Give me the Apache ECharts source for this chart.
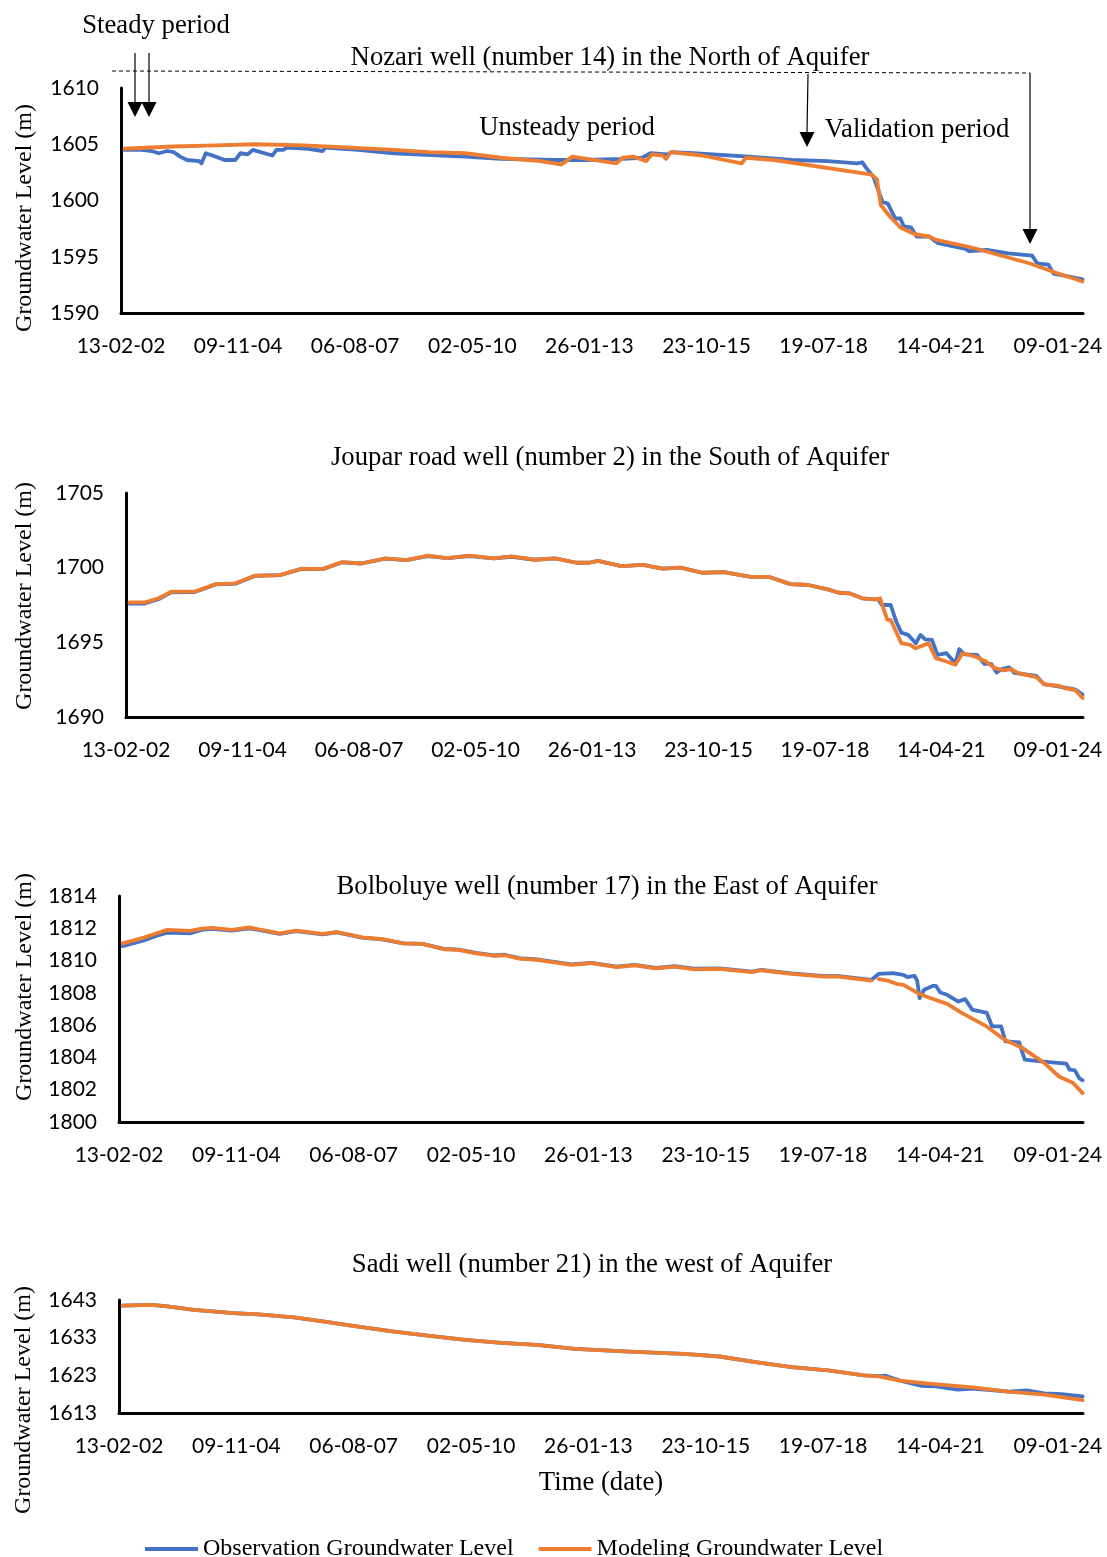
<!DOCTYPE html>
<html><head><meta charset="utf-8">
<script src="https://cdn.jsdelivr.net/npm/echarts@6/dist/echarts.min.js"></script>
<style>html,body{margin:0;padding:0;background:#fff}#c{width:1107px;height:1557px}</style>
</head><body><div id="c"></div>
<script>
// x tick labels (every 1000 days from 13-02-2002)
const tickLabels = ["13-02-02","09-11-04","06-08-07","02-05-10","26-01-13","23-10-15","19-07-18","14-04-21","09-01-24"];
const seriesNames = ["Observation Groundwater Level","Modeling Groundwater Level"];
const panelTitles = [
  "Nozari well (number 14) in the North of Aquifer",
  "Joupar road well (number 2) in the South of Aquifer",
  "Bolboluye well (number 17) in the East of Aquifer",
  "Sadi well (number 21) in the west of Aquifer"
];

// Panel 1 – Nozari (decimal year, level m)
const p1ObsT = [2002.2,2002.6,2002.83,2003.0,2003.2,2003.35,2003.5,2003.66,2003.95,2004.0,2004.1,2004.33,2004.54,2004.79,2004.91,2005.08,2005.2,2005.66,2005.75,2005.91,2006.0,2006.5,2006.83,2006.9,2007.66,2008.5,2009.0,2010.16,2011.0,2012.3,2013.0,2013.85,2014.3,2014.5,2014.9,2015.0,2015.5,2016.8,2017.8,2018.65,2019.33,2019.45,2019.54,2019.71,2019.92,2020.05,2020.22,2020.34,2020.42,2020.59,2020.72,2021.01,2021.22,2021.86,2021.94,2022.36,2022.87,2023.42,2023.54,2023.8,2023.92,2024.2,2024.6];
const p1ObsV = [1604.5,1604.5,1604.4,1604.2,1604.4,1604.3,1603.9,1603.6,1603.5,1603.3,1604.2,1603.9,1603.6,1603.6,1604.2,1604.1,1604.5,1604.0,1604.5,1604.5,1604.7,1604.6,1604.4,1604.7,1604.5,1604.2,1604.1,1603.9,1603.7,1603.6,1603.6,1603.7,1603.8,1604.2,1604.1,1604.3,1604.2,1603.9,1603.6,1603.5,1603.3,1603.4,1602.9,1602.1,1599.9,1599.7,1598.4,1598.4,1597.7,1597.6,1596.8,1596.8,1596.2,1595.7,1595.5,1595.6,1595.3,1595.1,1594.4,1594.3,1593.5,1593.3,1593.0];
const p1ModT = [2002.2,2003.33,2004.33,2005.25,2006.4,2007.25,2008.5,2009.33,2010.16,2011.0,2011.92,2012.42,2012.67,2013.7,2013.85,2014.1,2014.4,2014.53,2014.78,2014.86,2014.97,2015.7,2016.63,2016.73,2017.39,2019.67,2019.79,2019.88,2020.09,2020.34,2020.68,2021.01,2021.18,2022.03,2023.37,2023.96,2024.6];
const p1ModV = [1604.6,1604.8,1604.9,1605.0,1604.9,1604.75,1604.5,1604.3,1604.2,1603.8,1603.5,1603.2,1603.9,1603.3,1603.8,1603.9,1603.5,1604.1,1604.0,1603.7,1604.3,1604.0,1603.3,1603.8,1603.6,1602.3,1601.9,1599.6,1598.6,1597.6,1597.0,1596.8,1596.5,1595.8,1594.4,1593.6,1592.8];

// Panel 2 – Joupar road
const p2ObsT = [2002.2,2002.56,2002.89,2003.18,2003.73,2004.23,2004.69,2005.15,2005.74,2006.24,2006.74,2007.2,2007.66,2008.21,2008.71,2009.21,2009.67,2010.18,2010.76,2011.18,2011.73,2012.2,2012.71,2013.0,2013.21,2013.76,2014.27,2014.73,2015.15,2015.66,2016.17,2016.8,2017.22,2017.73,2018.15,2018.61,2018.87,2019.12,2019.42,2019.71,2019.8,2019.88,2020.09,2020.22,2020.34,2020.5,2020.68,2020.79,2020.9,2021.06,2021.19,2021.4,2021.61,2021.7,2021.83,2022.12,2022.29,2022.45,2022.58,2022.7,2022.88,2023.0,2023.51,2023.68,2024.02,2024.44,2024.6];
const p2ObsV = [1697.6,1697.6,1697.9,1698.35,1698.37,1698.88,1698.93,1699.45,1699.5,1699.92,1699.9,1700.36,1700.28,1700.6,1700.5,1700.78,1700.64,1700.78,1700.62,1700.73,1700.53,1700.62,1700.33,1700.33,1700.46,1700.1,1700.19,1699.93,1700.0,1699.66,1699.7,1699.39,1699.39,1698.9,1698.84,1698.55,1698.32,1698.28,1697.95,1697.88,1697.88,1697.5,1697.5,1696.39,1695.65,1695.5,1694.94,1695.5,1695.2,1695.16,1694.16,1694.27,1693.6,1694.54,1694.2,1694.16,1693.56,1693.56,1692.98,1693.2,1693.32,1692.95,1692.76,1692.22,1692.05,1691.83,1691.5];
const p2ModT = [2002.2,2002.56,2002.89,2003.18,2003.73,2004.23,2004.69,2005.15,2005.74,2006.24,2006.74,2007.2,2007.66,2008.21,2008.71,2009.21,2009.67,2010.18,2010.76,2011.18,2011.73,2012.2,2012.71,2013.0,2013.21,2013.76,2014.27,2014.73,2015.15,2015.66,2016.17,2016.8,2017.22,2017.73,2018.15,2018.61,2018.87,2019.12,2019.42,2019.71,2019.84,2020.01,2020.09,2020.34,2020.55,2020.68,2020.98,2021.15,2021.4,2021.61,2021.78,2022.07,2022.33,2022.54,2022.75,2022.92,2023.09,2023.51,2023.72,2024.02,2024.18,2024.44,2024.6];
const p2ModV = [1697.68,1697.68,1697.95,1698.39,1698.39,1698.9,1698.95,1699.46,1699.5,1699.93,1699.9,1700.37,1700.28,1700.62,1700.5,1700.8,1700.64,1700.8,1700.62,1700.75,1700.53,1700.62,1700.33,1700.33,1700.46,1700.1,1700.19,1699.93,1700.0,1699.66,1699.7,1699.39,1699.39,1698.9,1698.84,1698.55,1698.32,1698.28,1697.95,1697.88,1697.95,1696.5,1696.5,1694.94,1694.83,1694.6,1694.94,1693.94,1693.72,1693.5,1694.27,1694.05,1693.72,1693.27,1693.12,1693.2,1692.94,1692.67,1692.16,1692.1,1691.94,1691.78,1691.27];

// Panel 3 – Bolboluye
const p3ObsT = [2002.2,2002.7,2002.95,2003.24,2003.79,2004.04,2004.29,2004.75,2005.16,2005.37,2005.87,2006.25,2006.87,2007.2,2007.79,2008.29,2008.75,2009.2,2009.7,2010.04,2010.45,2010.87,2011.12,2011.45,2011.87,2012.67,2013.14,2013.73,2014.15,2014.65,2015.08,2015.54,2016.13,2016.89,2017.1,2017.81,2018.57,2018.91,2019.67,2019.75,2019.84,2020.17,2020.42,2020.51,2020.68,2020.74,2020.8,2020.9,2021.1,2021.18,2021.28,2021.44,2021.7,2021.86,2022.03,2022.36,2022.49,2022.7,2022.8,2023.12,2023.25,2023.63,2023.88,2024.22,2024.3,2024.42,2024.52,2024.6];
const p3ObsV = [1810.9,1811.25,1811.5,1811.73,1811.69,1811.9,1811.96,1811.85,1812.0,1811.9,1811.66,1811.82,1811.62,1811.74,1811.42,1811.3,1811.07,1811.03,1810.72,1810.68,1810.48,1810.32,1810.36,1810.15,1810.07,1809.76,1809.86,1809.62,1809.73,1809.54,1809.65,1809.5,1809.51,1809.31,1809.42,1809.21,1809.04,1809.04,1808.8,1808.97,1809.18,1809.22,1809.11,1808.97,1809.05,1808.75,1807.67,1808.19,1808.43,1808.43,1808.02,1807.88,1807.46,1807.61,1806.95,1806.78,1805.92,1805.92,1804.99,1804.93,1803.86,1803.75,1803.69,1803.61,1803.24,1803.2,1802.72,1802.58];
const p3ModT = [2002.2,2002.7,2002.95,2003.24,2003.79,2004.04,2004.29,2004.75,2005.16,2005.37,2005.87,2006.25,2006.87,2007.2,2007.79,2008.29,2008.75,2009.2,2009.7,2010.04,2010.45,2010.87,2011.12,2011.45,2011.87,2012.67,2013.14,2013.73,2014.15,2014.65,2015.08,2015.54,2016.13,2016.89,2017.1,2017.81,2018.57,2018.91,2019.67,2019.75,2019.84,2020.05,2020.26,2020.42,2020.76,2021.01,2021.44,2021.77,2022.36,2022.78,2023.2,2023.71,2024.05,2024.38,2024.6];
const p3ModV = [1811.07,1811.42,1811.65,1811.9,1811.84,1811.98,1812.02,1811.9,1812.06,1811.94,1811.69,1811.86,1811.65,1811.77,1811.44,1811.32,1811.07,1811.03,1810.7,1810.66,1810.45,1810.29,1810.33,1810.12,1810.04,1809.73,1809.84,1809.59,1809.71,1809.51,1809.63,1809.46,1809.48,1809.28,1809.4,1809.18,1809.01,1809.01,1808.76,null,1808.85,1808.76,1808.56,1808.49,1807.98,1807.71,1807.32,1806.78,1805.92,1805.09,1804.58,1803.65,1802.82,1802.41,1801.79];

// Panel 4 – Sadi
const p4ObsT = [2002.2,2002.87,2003.2,2003.87,2004.79,2005.37,2006.2,2006.87,2007.7,2008.54,2009.37,2010.2,2011.04,2011.87,2012.76,2014.02,2015.29,2016.13,2016.97,2017.81,2018.66,2019.5,2019.84,2020.0,2020.34,2020.85,2021.18,2021.69,2022.03,2022.87,2023.29,2023.71,2024.1,2024.6];
const p4ObsV = [1641.5,1641.7,1641.4,1640.4,1639.5,1639.2,1638.4,1637.3,1635.9,1634.6,1633.5,1632.4,1631.6,1631.1,1630.0,1629.3,1628.7,1628.0,1626.5,1625.2,1624.3,1623.0,1622.8,1622.9,1621.6,1620.2,1620.1,1619.2,1619.5,1618.7,1619.0,1618.2,1618.0,1617.4];
const p4ModT = [2002.2,2002.87,2003.2,2003.87,2004.79,2005.37,2006.2,2006.87,2007.7,2008.54,2009.37,2010.2,2011.04,2011.87,2012.76,2014.02,2015.29,2016.13,2016.97,2017.81,2018.66,2019.5,2019.84,2020.34,2021.01,2022.03,2022.87,2023.71,2024.6];
const p4ModV = [1641.5,1641.7,1641.4,1640.4,1639.5,1639.2,1638.4,1637.3,1635.9,1634.6,1633.5,1632.4,1631.6,1631.1,1630.0,1629.3,1628.7,1628.0,1626.5,1625.2,1624.3,1623.0,1622.7,1621.6,1620.8,1619.8,1618.7,1617.9,1616.4];

// y-axis settings per panel
const yMins = [1590,1690,1800,1613];
const yMaxs = [1610,1705,1814,1643];
const ySteps = [5,5,2,10];

const START = 2002.118; // 13-02-2002
function toDays(t){ return (t - START) * 365.25; }
function pairs(ts, vs){ return ts.map((t,i)=>[toDays(t), vs[i]===null ? '-' : vs[i]]); }

const obs = [[p1ObsT,p1ObsV],[p2ObsT,p2ObsV],[p3ObsT,p3ObsV],[p4ObsT,p4ObsV]];
const mod = [[p1ModT,p1ModV],[p2ModT,p2ModV],[p3ModT,p3ModV],[p4ModT,p4ModV]];

const grids = [
  {left:121, top:88, width:962, height:225},
  {left:126, top:493, width:957, height:224},
  {left:119, top:896, width:964, height:226},
  {left:119, top:1300, width:964, height:113}
];

const serif = "'Liberation Serif','Times New Roman',serif";
const sans = "Lato, 'Open Sans', sans-serif";
const BLUE = '#4472C4', ORANGE = '#ED7D31';

const xAxes = grids.map((g,i)=>({
  type:'value', gridIndex:i, min:0, max:8215, interval:1000,
  axisLine:{show:true, onZero:false, lineStyle:{color:'#000', width:3}},
  axisTick:{show:false}, splitLine:{show:false},
  axisLabel:{fontFamily:sans, fontSize:21, color:'#000', margin:23,
    formatter:v=>{ const k=Math.round(v/1000); return (Math.abs(v-k*1000)<1e-6 && tickLabels[k]) ? tickLabels[k] : ''; }}
}));
const yAxes = grids.map((g,i)=>({
  type:'value', gridIndex:i, min:yMins[i], max:yMaxs[i], interval:ySteps[i],
  axisLine:{show:true, lineStyle:{color:'#000', width:3}},
  axisTick:{show:false}, splitLine:{show:false},
  axisLabel:{fontFamily:sans, fontSize:21, color:'#000', margin:22, formatter:v=>String(v)}
}));

const series = [];
for (let i=0;i<4;i++){
  series.push({name:seriesNames[0], type:'line', xAxisIndex:i, yAxisIndex:i, data:pairs(obs[i][0],obs[i][1]),
    symbol:'none', showSymbol:false, lineStyle:{color:BLUE, width:3.8, join:'round', cap:'round'}, itemStyle:{color:BLUE}, z:2});
  series.push({name:seriesNames[1], type:'line', xAxisIndex:i, yAxisIndex:i, data:pairs(mod[i][0],mod[i][1]),
    symbol:'none', showSymbol:false, lineStyle:{color:ORANGE, width:3.8, join:'round', cap:'round'}, itemStyle:{color:ORANGE}, z:3});
}

function txt(x,y,text,size,rot){
  return {type:'text', x:x, y:y, rotation:rot||0, silent:true,
    style:{text:text, fontFamily:serif, fontSize:size, fill:'#000', textAlign:'center', textVerticalAlign:'middle'}};
}
function arrow(x1,y1,x2,y2,headLen,headW){
  return [
    {type:'line', silent:true, shape:{x1:x1,y1:y1,x2:x2,y2:y2-headLen+1}, style:{stroke:'#000', lineWidth:1.2}},
    {type:'polygon', silent:true, shape:{points:[[x2-headW/2,y2-headLen],[x2+headW/2,y2-headLen],[x2,y2]]}, style:{fill:'#000'}}
  ];
}

const graphic = [
  txt(610,58,panelTitles[0],26.7),
  txt(610,458,panelTitles[1],26.7),
  txt(607,887,panelTitles[2],26.7),
  txt(592,1265,panelTitles[3],26.7),
  txt(601,1483,'Time (date)',26.7),
  txt(25,218,'Groundwater Level (m)',24,Math.PI/2),
  txt(25,596,'Groundwater Level (m)',24,Math.PI/2),
  txt(25,987,'Groundwater Level (m)',24,Math.PI/2),
  txt(24,1400,'Groundwater Level (m)',24,Math.PI/2),
  txt(156,26,'Steady period',26.7),
  txt(567,128,'Unsteady period',26.7),
  txt(917,130,'Validation period',26.7),
  {type:'line', silent:true, shape:{x1:112,y1:71,x2:1030,y2:73}, style:{stroke:'#000', lineWidth:1, lineDash:[4,3]}},
  ...arrow(135,53,135,117,15,15),
  ...arrow(149,53,149,117,15,15),
  ...arrow(808,74,807,147,15,15),
  ...arrow(1030,73,1030,244,15,15)
];

const chart = echarts.init(document.getElementById('c'), null, {renderer:'canvas'});
chart.setOption({
  animation:false,
  backgroundColor:'#fff',
  grid:grids.map(g=>Object.assign({containLabel:false}, g)),
  xAxis:xAxes, yAxis:yAxes, series:series,
  legend:{data:seriesNames, left:140, top:1532, itemWidth:53, itemHeight:4, itemGap:25, icon:'rect',
    textStyle:{fontFamily:serif, fontSize:24, color:'#000'}},
  graphic:graphic
});
</script></body></html>
